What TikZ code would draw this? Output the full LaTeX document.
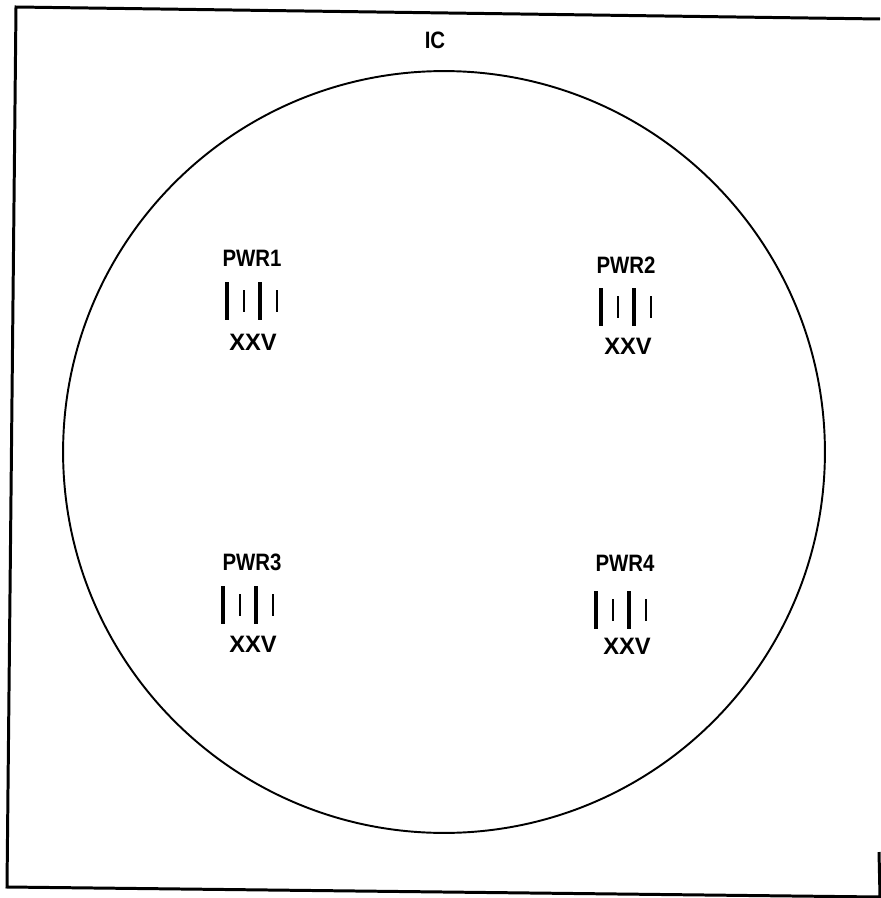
\documentclass[tikz,border=0pt]{standalone}
\usepackage{fontspec}
\setmainfont{Liberation Sans}
\newfontfamily\narrowfont[FakeStretch=0.86]{Liberation Sans}
\begin{document}
\begin{tikzpicture}[x=0.02cm, y=-0.02cm, every node/.style={inner sep=0pt, font=\narrowfont\bfseries\fontsize{13.5}{14}\selectfont}, code/.style={font=\bfseries\fontsize{13.5}{14}\selectfont}, frame/.style={line width=1.7pt}, wafer/.style={circle, draw, line width=1.1pt, minimum size=15.24cm}, tallbar/.style={line width=1.8pt}, shortbar/.style={line width=1.6pt}]
	\useasboundingbox (0,0) rectangle (880,898);
	% outer frame, slightly skewed like the scan
	\draw[frame] (879,852) -- (880,897) -- (7,887) -- (16,7) -- (880,19);
	\node[wafer] (ic) at (444,452) {};
	\node (iclabel) at (435,40) {IC};
	\node (pwr1) at (252,258) {PWR1};
	\node (pwr2) at (626,265) {PWR2};
	\node (pwr3) at (252,562) {PWR3};
	\node (pwr4) at (625,563) {PWR4};
	\node[code] (code1) at (253,342) {XXV};
	\node[code] (code2) at (628,346) {XXV};
	\node[code] (code3) at (253,644) {XXV};
	\node[code] (code4) at (627,646) {XXV};
	% bar marks between label and code
	\foreach \gx/\gy in {252/301, 626/307, 248/605, 621/610} {
		\draw[tallbar] (\gx,\gy) ++(-25,-19) -- ++(0,38);
		\draw[shortbar] (\gx,\gy) ++(-8,-11) -- ++(0,22);
		\draw[tallbar] (\gx,\gy) ++(8,-19) -- ++(0,38);
		\draw[shortbar] (\gx,\gy) ++(25,-11) -- ++(0,22);
	}
\end{tikzpicture}
\end{document}
